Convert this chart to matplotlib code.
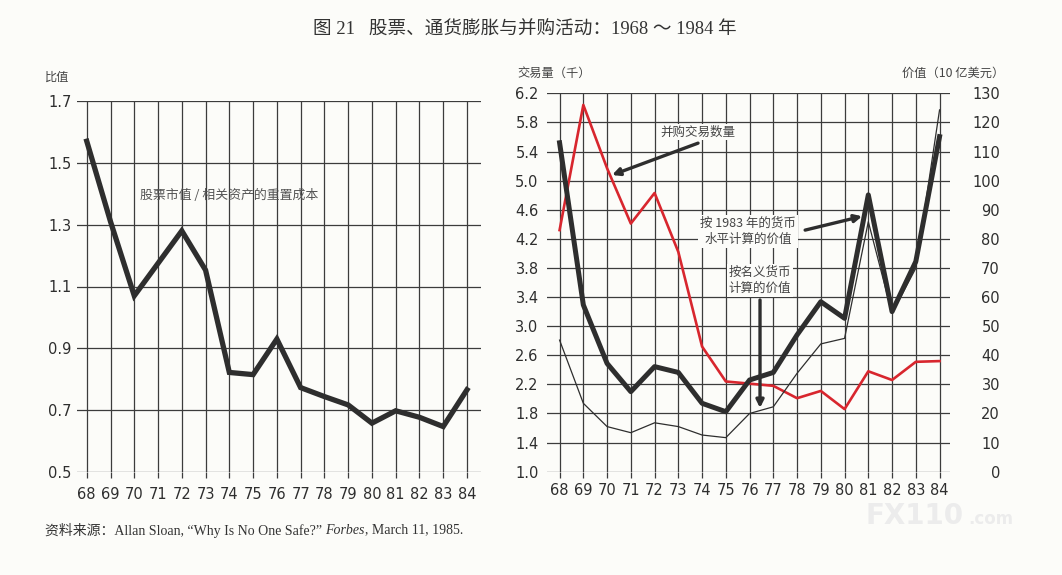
import matplotlib
matplotlib.use("Agg")
import matplotlib.pyplot as plt

plt.rcParams['font.family'] = ['DejaVu Sans', 'Noto Sans CJK SC']

# ---- data ----
years = list(range(68, 85))
year_labels = [str(y) for y in years]

# left panel: market value / replacement cost of assets
q_ratio = [1.57, 1.31, 1.07, 1.175, 1.28, 1.153, 0.822, 0.815, 0.93,
           0.773, 0.744, 0.717, 0.658, 0.698, 0.677, 0.647, 0.766]
q_ticks = [0.5, 0.7, 0.9, 1.1, 1.3, 1.5, 1.7]

# right panel: number of deals (thousands), left axis
deals = [4.32, 6.04, 5.17, 4.41, 4.83, 4.02, 2.72, 2.24, 2.21,
         2.18, 2.01, 2.11, 1.86, 2.38, 2.26, 2.51, 2.52]
deal_ticks = [1.0, 1.4, 1.8, 2.2, 2.6, 3.0, 3.4, 3.8, 4.2, 4.6, 5.0, 5.4, 5.8, 6.2]

# right panel: deal value ($bn), right axis
value_1983 = [113, 57.3, 37.2, 27.5, 36.1, 34.1, 23.5, 20.6, 31.5,
              34.1, 47.0, 58.4, 52.7, 95.1, 55.0, 72.2, 115.1]
value_nominal = [45.2, 23.5, 15.5, 13.4, 16.8, 15.5, 12.6, 11.7, 20.0,
                 22.3, 33.8, 43.9, 45.8, 85.9, 54.4, 69.9, 124.3]
value_ticks = list(range(0, 140, 10))

BG = '#fcfcf9'
GRID = '#3c3c3c'
INK = '#2e2e2e'
RED = '#d8262e'
W, H = 1062, 575


def fx(px):
    return px / W


def fy(py):
    return 1 - py / H


def style_grid(ax, xlim, ylim, yticks, ypad, xpad):
    ax.set_facecolor('none')
    ax.set_xlim(*xlim)
    ax.set_ylim(*ylim)
    ax.set_xticks(years, year_labels)
    ax.set_yticks(yticks, [f"{t:.1f}" for t in yticks])
    ax.grid(True, color=GRID, lw=0.9)
    ax.set_axisbelow(True)
    for s in ax.spines.values():
        s.set_visible(False)
    ax.tick_params(axis='x', length=4, width=0.9, color=GRID, pad=xpad,
                   labelsize=10.5, labelcolor=INK)
    ax.tick_params(axis='y', length=0, pad=ypad, labelsize=10.5, labelcolor=INK)


fig = plt.figure(figsize=(W / 100, H / 100), dpi=100, facecolor=BG)

# faint site watermark (drawn first so everything sits on top)
fig.text(fx(865), fy(516), "FX110", fontsize=20, color='#ececec',
         ha='left', va='center', weight='bold', family='DejaVu Sans')
fig.text(fx(968), fy(519), ".com", fontsize=12, color='#ececec',
         ha='left', va='center', weight='bold', family='DejaVu Sans')

cjk = 'Noto Sans CJK SC'

# ---- left panel ----
ax1 = fig.add_axes([fx(77), fy(472), fx(481 - 77), (472 - 101) / H])
style_grid(ax1, (67.59, 84.59), (0.5, 1.7), q_ticks, ypad=4, xpad=7)
ax1.plot(years, q_ratio, color=INK, lw=3.8, solid_joinstyle='miter')
ax1.text(73.99, 1.393, "股票市值 / 相关资产的重置成本", fontsize=9.3,
         color='#555555', ha='center', va='center', family=cjk)

# ---- right panel ----
ax2 = fig.add_axes([fx(547), fy(471.7), fx(950 - 547), (471.7 - 93.3) / H])
style_grid(ax2, (67.47, 84.44), (1.0, 6.2), deal_ticks, ypad=6, xpad=4)
ax2.plot(years, deals, color=RED, lw=1.9, zorder=4)

ax3 = ax2.twinx()
ax3.set_ylim(0, 130)
ax3.set_yticks(value_ticks, [str(v) for v in value_ticks], ha='right')
ax3.tick_params(axis='y', length=0, pad=36, labelsize=10.5, labelcolor=INK)
for s in ax3.spines.values():
    s.set_visible(False)
ax3.plot(years, value_nominal, color=INK, lw=0.9, zorder=3)
ax3.plot(years, value_1983, color=INK, lw=3.6, zorder=3)

box = dict(boxstyle='square,pad=0.15', fc=BG, ec='none')
arrow = dict(arrowstyle='-|>', color=INK, lw=2.4, mutation_scale=11,
             shrinkA=0, shrinkB=0)

ax2.text(73.83, 5.667, "并购交易数量", fontsize=9, color='#444444',
         ha='center', va='center', family=cjk, bbox=box, zorder=6)
ax2.annotate("", xy=(70.21, 5.077), xytext=(73.83, 5.515), arrowprops=arrow,
             zorder=6)

ax2.text(75.94, 4.30, "按 1983 年的货币\n水平计算的价值", fontsize=9,
         color='#444444', ha='center', va='center', family=cjk,
         linespacing=1.35, bbox=box, zorder=6)
ax2.annotate("", xy=(80.74, 4.51), xytext=(78.34, 4.32), arrowprops=arrow,
             zorder=6)

ax2.text(76.44, 3.63, "按名义货币\n计算的价值", fontsize=9, color='#444444',
         ha='center', va='center', family=cjk, linespacing=1.35,
         bbox=box, zorder=6)
ax2.annotate("", xy=(76.44, 1.876), xytext=(76.44, 3.36), arrowprops=arrow,
             zorder=6)

# ---- axis titles, title, source ----
fig.text(fx(45), fy(77), "比值", fontsize=8.8, color='#444444', family=cjk,
         va='center')
fig.text(fx(517), fy(73), "交易量（千）", fontsize=8.8, color='#444444',
         family=cjk, va='center')
fig.text(fx(1004), fy(73), "价值（10 亿美元）", fontsize=8.8, color='#444444',
         family=cjk, va='center', ha='right')

fig.text(fx(525), fy(30), "图 21   股票、通货膨胀与并购活动：1968 ～ 1984 年",
         fontsize=13.4, color='#333333', ha='center', va='center',
         family=['Liberation Serif', cjk])

# source line with italic journal name, chained piece by piece
serif = ['Liberation Serif', cjk]
pieces = [("资料来源：Allan Sloan, “Why Is No One Safe?” ", 'normal'),
          ("Forbes", 'italic'),
          (", March 11, 1985.", 'normal')]
fig.canvas.draw()
renderer = fig.canvas.get_renderer()
x0 = 45
for txt, st in pieces:
    t = fig.text(fx(x0), fy(530), txt, fontsize=10, color='#333333',
                 family=serif, style=st, va='center')
    bb = t.get_window_extent(renderer)
    x0 += bb.width

fig.savefig("out.png", dpi=100, facecolor=BG)
